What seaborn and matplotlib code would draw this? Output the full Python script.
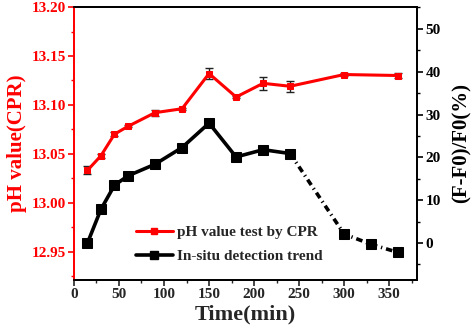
import numpy as np
import pandas as pd
import matplotlib
matplotlib.use("Agg")
import matplotlib.pyplot as plt
from matplotlib.ticker import MultipleLocator, FormatStrFormatter
from matplotlib.lines import Line2D
import seaborn as sns

# pH measured by CPR (left axis)
ph_time = [15, 30, 45, 60, 90, 120, 150, 180, 210, 240, 300, 360]
ph_value = [13.033, 13.048, 13.070, 13.078, 13.092, 13.096, 13.132, 13.108, 13.122, 13.119, 13.131, 13.130]
ph_err = [0.004, 0.002, 0.002, 0.001, 0.003, 0.001, 0.006, 0.001, 0.0065, 0.0055, 0.002, 0.003]

# In-situ detection response (right axis)
situ_time = [15, 30, 45, 60, 90, 120, 150, 180, 210, 240, 300, 330, 360]
situ_value = [0.0, 7.9, 13.5, 15.7, 18.4, 22.3, 28.0, 20.1, 21.8, 20.9, 2.1, -0.3, -2.2]
solid_count = 10  # points joined by a solid line; the rest are dash-dotted

legend_labels = ["pH value test by CPR", "In-situ detection trend"]

sns.set_theme(style="ticks")
plt.rcParams["font.family"] = ["Liberation Serif", "DejaVu Serif"]
plt.rcParams["font.weight"] = "bold"
plt.rcParams["axes.labelweight"] = "bold"

RED = "#ff0000"

fig = plt.figure(figsize=(4.74, 3.36), dpi=100)
ax = fig.add_axes([0.156, 0.167, 0.724, 0.812])
ax2 = ax.twinx()

ph_df = pd.DataFrame({"time": ph_time, "ph": ph_value, "err": ph_err})
situ_df = pd.DataFrame({"time": situ_time, "val": situ_value})

# red pH curve with error bars
ax.errorbar(ph_df["time"], ph_df["ph"], yerr=ph_df["err"], fmt="none",
            ecolor="#222222", elinewidth=1.0, capsize=3, capthick=1.0, zorder=3)
sns.lineplot(data=ph_df, x="time", y="ph", ax=ax, color=RED, lw=2.2,
             marker="s", markersize=5, markeredgecolor=RED, zorder=4,
             legend=False)

# black in-situ curve: solid part, then dash-dot tail
head = situ_df.iloc[:solid_count]
tail = situ_df.iloc[solid_count - 1:]
sns.lineplot(data=head, x="time", y="val", ax=ax2, color="black", lw=2.6,
             marker="s", markersize=7.5, markeredgecolor="black", legend=False)
sns.lineplot(data=tail, x="time", y="val", ax=ax2, color="black", lw=2.6,
             linestyle=(0, (1.8, 1.1, 0.35, 1.1)), legend=False)
sns.lineplot(data=tail.iloc[1:], x="time", y="val", ax=ax2, color="black", lw=0,
             marker="s", markersize=7.5, markeredgecolor="black", legend=False)

ax.set_xlim(0, 381)
ax.set_ylim(12.921, 13.20)
ax2.set_ylim(-8.6, 55.1)

ax.xaxis.set_major_locator(MultipleLocator(50))
ax.xaxis.set_minor_locator(MultipleLocator(25))
ax.yaxis.set_major_locator(MultipleLocator(0.05))
ax.yaxis.set_minor_locator(MultipleLocator(0.025))
ax2.yaxis.set_major_locator(MultipleLocator(10))
ax2.yaxis.set_minor_locator(MultipleLocator(5))
ax.yaxis.set_major_formatter(FormatStrFormatter("%.2f"))

ax.set_xlabel("Time(min)", fontsize=16, labelpad=2)
ax.set_ylabel("pH value(CPR)", fontsize=15, color=RED, labelpad=3)
ax2.set_ylabel("(F-F0)/F0(%)", fontsize=15, color="black", labelpad=8)

for a in (ax, ax2):
    a.tick_params(which="major", direction="out", length=4, width=1.2, labelsize=11, pad=2)
    a.tick_params(which="minor", direction="out", length=2.5, width=1.0)
ax.tick_params(axis="y", which="both", colors=RED)
ax2.tick_params(axis="y", which="both", colors="black")

for a in (ax, ax2):
    for side in ("top", "right", "bottom", "left"):
        a.spines[side].set_linewidth(1.3)
        a.spines[side].set_color("black")
    a.spines["left"].set_color(RED)

handles = [
    Line2D([], [], color=RED, lw=2.2, marker="s", markersize=4),
    Line2D([], [], color="black", lw=2.6, marker="s", markersize=5.5),
]
ax2.legend(handles, legend_labels, loc="center left", bbox_to_anchor=(0.15, 0.13),
           frameon=False, handlelength=2.4, handletextpad=0.25,
           labelspacing=0.65, borderpad=0.2,
           prop={"family": "Liberation Serif", "weight": "bold", "size": 11})

fig.savefig("out.png", dpi=100)
